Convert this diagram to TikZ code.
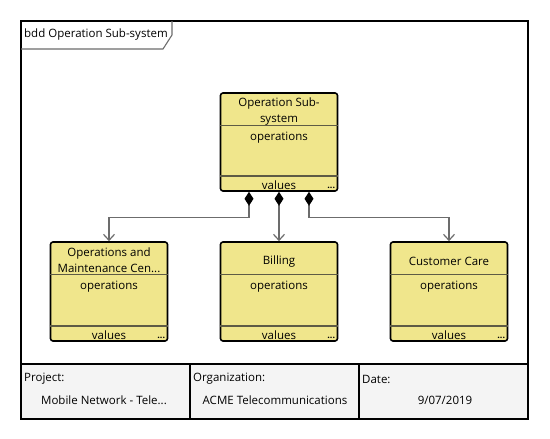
\documentclass[tikz,border=0pt]{standalone}
\usepackage{fontspec}
\setmainfont{Open Sans}
\usetikzlibrary{arrows.meta}
\definecolor{khaki}{HTML}{F0E68C}
\definecolor{compgray}{HTML}{5E5B45}
\definecolor{linegray}{HTML}{6C6C6C}
\definecolor{footgray}{HTML}{F4F4F4}
\tikzset{
  block/.style={draw=black,line width=1.6pt,fill=khaki,rounded corners=2.5pt,minimum width=117pt,inner sep=0pt},
  comp/.style={draw=compgray,line width=1.4pt},
  part/.style={draw=linegray,line width=1.2pt,{Diamond[length=14pt,width=9pt,color=black,fill=black]}-{Straight Barb[length=6pt,width=11pt]}},
  lbl/.style={font=\fontsize{11.5}{16}\selectfont,inner sep=0pt,align=center},
  dots/.style={font=\fontsize{9}{9}\selectfont\bfseries,inner sep=0pt,anchor=south east},
}
\begin{document}
\begin{tikzpicture}[x=1pt,y=-1pt]
\useasboundingbox (0,0) rectangle (550,439);
% frame and footer
\fill[footgray] (21,364) rectangle (528,419);
\draw[line width=1.8pt] (21,21) rectangle (528,419);
\draw[line width=1.8pt] (21,364) -- (528,364);
\draw[line width=1.5pt] (190,364) -- (190,419) (359,364) -- (359,419);
\draw[linegray,line width=1.1pt] (21,49) -- (163,49) -- (172,35) -- (172,21);
\node[lbl,anchor=west] (title) at (24,35) {bdd Operation Sub-system};

% blocks
\node[block,minimum height=98pt] (sys) at (279,142) {};
\node[block,minimum height=99pt] (omc) at (109,291.5) {};
\node[block,minimum height=99pt] (bil) at (279,291.5) {};
\node[block,minimum height=99pt] (cc) at (449,291.5) {};
\foreach \b in {sys,omc,bil,cc} {
  \draw[comp] ([yshift=-33pt]\b.north west) -- ([yshift=-33pt]\b.north east);
  \draw[comp] ([yshift=16pt]\b.south west) -- ([yshift=16pt]\b.south east);
  \node[lbl] (\b-ops) at ([yshift=-45pt]\b.north) {operations};
  \node[lbl] (\b-val) at ([yshift=6.5pt]\b.south) {values};
  \node[dots] (\b-dots) at ([xshift=-3pt,yshift=2.5pt]\b.south east) {...};
}
\node[lbl] (sys-name) at ([yshift=-19pt]sys.north) {Operation Sub-\\system};
\node[lbl] (omc-name) at ([yshift=-19pt]omc.north) {Operations and\\Maintenance Cen...};
\node[lbl] (bil-name) at ([yshift=-20pt]bil.north) {Billing};
\node[lbl] (cc-name) at ([yshift=-20pt]cc.north) {Customer Care};

% part associations
\draw[part] ([xshift=-30pt]sys.south) -- ++(0,26) -| (omc.north);
\draw[part] (sys.south) -- (bil.north);
\draw[part] ([xshift=30pt]sys.south) -- ++(0,26) -| (cc.north);

% footer texts
\node[lbl,anchor=west] (proj) at (24,379) {Project:};
\node[lbl,anchor=west] (org) at (193,379) {Organization:};
\node[lbl,anchor=west] (date) at (362,379) {Date:};
\node[lbl] (proj-val) at (104,400) {Mobile Network - Tele...};
\node[lbl] (org-val) at (275,400) {ACME Telecommunications};
\node[lbl] (date-val) at (445,400) {9/07/2019};
\end{tikzpicture}
\end{document}
